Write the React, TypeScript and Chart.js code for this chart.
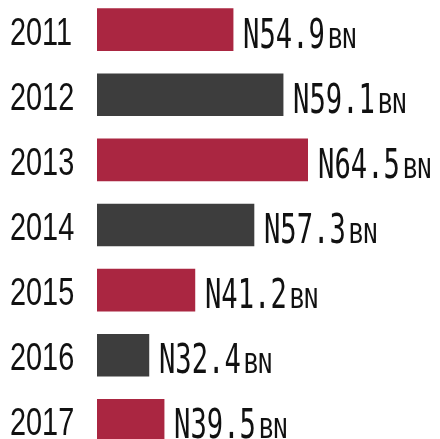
import React, { useEffect, useRef } from "react";
import { Chart, registerables } from "chart.js";

Chart.register(...registerables);

const years = ["2011", "2012", "2013", "2014", "2015", "2016", "2017"];
const amounts = ["54.9", "59.1", "64.5", "57.3", "41.2", "32.4", "39.5"];
// bar lengths as drawn in the graphic, relative to the longest bar (=100)
const barLengths = [64.5, 88.2, 100, 74.4, 46.4, 24.6, 31.8];
const barColors = ["#AA2641", "#3D3D3D", "#AA2641", "#3D3D3D", "#AA2641", "#3D3D3D", "#AA2641"];
const currencyPrefix = "N";
const unitSuffix = "BN";

const labelPlugin = {
  id: "labels",
  afterDatasetsDraw(chart: any) {
    const ctx = chart.ctx;
    const meta = chart.getDatasetMeta(0);
    ctx.save();
    ctx.fillStyle = "#111111";
    ctx.textBaseline = "alphabetic";
    meta.data.forEach((bar: any, i: number) => {
      const y = bar.y;
      // year label (narrow sans)
      ctx.save();
      ctx.font = "38px 'Liberation Sans'";
      ctx.translate(10, y + 15);
      ctx.scale(0.76, 1);
      ctx.textAlign = "left";
      ctx.fillText(years[i], 0, 0);
      ctx.restore();
      // value label (condensed mono)
      const startX = bar.x + 10;
      ctx.save();
      ctx.translate(startX, y + 18);
      ctx.scale(0.68, 1);
      ctx.font = "40px 'DejaVu Sans Mono'";
      const main = currencyPrefix + amounts[i];
      ctx.fillText(main, 0, 0);
      const w = ctx.measureText(main).width;
      ctx.restore();
      ctx.save();
      ctx.translate(startX + w * 0.68 + 3, y + 18);
      ctx.scale(0.88, 1);
      ctx.font = "27px 'DejaVu Sans Mono'";
      ctx.fillText(unitSuffix, 0, 0);
      ctx.restore();
    });
    ctx.restore();
  },
};

export default function App() {
  const ref = useRef<HTMLCanvasElement | null>(null);
  useEffect(() => {
    if (!ref.current) return;
    const chart = new Chart(ref.current, {
      type: "bar",
      data: {
        labels: years,
        datasets: [
          {
            data: barLengths,
            backgroundColor: barColors,
            borderWidth: 0,
            barThickness: 42,
          },
        ],
      },
      options: {
        indexAxis: "y",
        responsive: false,
        animation: false,
        layout: { padding: { left: 97, right: 132, top: 0, bottom: 0 } },
        plugins: { legend: { display: false }, tooltip: { enabled: false } },
        scales: {
          x: { display: false, min: 0, max: 100 },
          y: { display: false, offset: true, grid: { display: false } },
        },
      },
      plugins: [labelPlugin],
    });
    return () => chart.destroy();
  }, []);
  return (
    <canvas
      ref={ref}
      width={440}
      height={456}
      style={{ position: "fixed", left: 0, top: -3, width: 440, height: 456 }}
    />
  );
}
